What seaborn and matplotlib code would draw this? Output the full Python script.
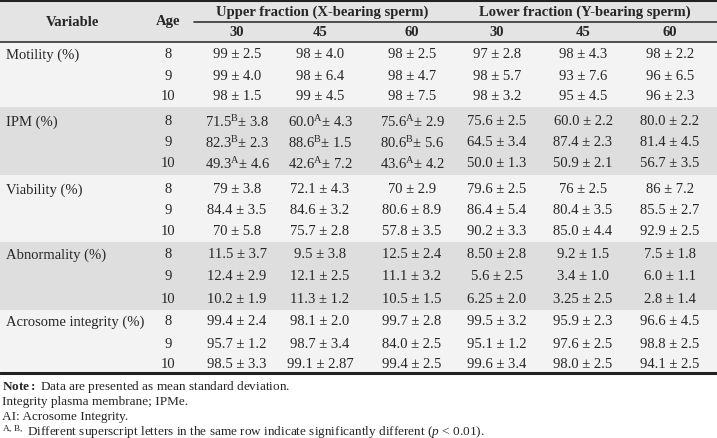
import matplotlib
matplotlib.use("Agg")
import matplotlib.pyplot as plt
import seaborn as sns

sns.set_theme(style="white")
plt.rcParams['font.family'] = ['Liberation Serif', 'DejaVu Serif']
plt.rcParams['mathtext.fontset'] = 'custom'
plt.rcParams['mathtext.rm'] = 'Liberation Serif'
plt.rcParams['mathtext.it'] = 'Liberation Serif:italic'
plt.rcParams['mathtext.bf'] = 'Liberation Serif:bold'

variables = ["Motility (%)", "IPM (%)", "Viability (%)", "Abnormality (%)", "Acrosome integrity (%)"]
ages = ["8", "9", "10"]
sub_cols = ["30", "45", "60", "30", "45", "60"]
groups = ["Upper fraction (X-bearing sperm)", "Lower fraction (Y-bearing sperm)"]

motility = [["99 ± 2.5", "98 ± 4.0", "98 ± 2.5", "97 ± 2.8", "98 ± 4.3", "98 ± 2.2"],
            ["99 ± 4.0", "98 ± 6.4", "98 ± 4.7", "98 ± 5.7", "93 ± 7.6", "96 ± 6.5"],
            ["98 ± 1.5", "99 ± 4.5", "98 ± 7.5", "98 ± 3.2", "95 ± 4.5", "96 ± 2.3"]]
ipm = [["71.5$^{\\mathrm{B}}$± 3.8", "60.0$^{\\mathrm{A}}$± 4.3", "75.6$^{\\mathrm{A}}$± 2.9", "75.6 ± 2.5", "60.0 ± 2.2", "80.0 ± 2.2"],
       ["82.3$^{\\mathrm{B}}$± 2.3", "88.6$^{\\mathrm{B}}$± 1.5", "80.6$^{\\mathrm{B}}$± 5.6", "64.5 ± 3.4", "87.4 ± 2.3", "81.4 ± 4.5"],
       ["49.3$^{\\mathrm{A}}$± 4.6", "42.6$^{\\mathrm{A}}$± 7.2", "43.6$^{\\mathrm{A}}$± 4.2", "50.0 ± 1.3", "50.9 ± 2.1", "56.7 ± 3.5"]]
viability = [["79 ± 3.8", "72.1 ± 4.3", "70 ± 2.9", "79.6 ± 2.5", "76 ± 2.5", "86 ± 7.2"],
             ["84.4 ± 3.5", "84.6 ± 3.2", "80.6 ± 8.9", "86.4 ± 5.4", "80.4 ± 3.5", "85.5 ± 2.7"],
             ["70 ± 5.8", "75.7 ± 2.8", "57.8 ± 3.5", "90.2 ± 3.3", "85.0 ± 4.4", "92.9 ± 2.5"]]
abnormality = [["11.5 ± 3.7", "9.5 ± 3.8", "12.5 ± 2.4", "8.50 ± 2.8", "9.2 ± 1.5", "7.5 ± 1.8"],
               ["12.4 ± 2.9", "12.1 ± 2.5", "11.1 ± 3.2", "5.6 ± 2.5", "3.4 ± 1.0", "6.0 ± 1.1"],
               ["10.2 ± 1.9", "11.3 ± 1.2", "10.5 ± 1.5", "6.25 ± 2.0", "3.25 ± 2.5", "2.8 ± 1.4"]]
acrosome = [["99.4 ± 2.4", "98.1 ± 2.0", "99.7 ± 2.8", "99.5 ± 3.2", "95.9 ± 2.3", "96.6 ± 4.5"],
            ["95.7 ± 1.2", "98.7 ± 3.4", "84.0 ± 2.5", "95.1 ± 1.2", "97.6 ± 2.5", "98.8 ± 2.5"],
            ["98.5 ± 3.3", "99.1 ± 2.87", "99.4 ± 2.5", "99.6 ± 3.4", "98.0 ± 2.5", "94.1 ± 2.5"]]
blocks = [motility, ipm, viability, abnormality, acrosome]
notes = ["$\\mathbf{Note:}$ Data are presented as mean standard deviation.",
         "Integrity plasma membrane; IPMe.",
         "AI: Acrosome Integrity.",
         "$^{\\mathrm{A,\\,B,}}$ Different superscript letters in the same row indicate significantly different ($\\mathit{p}$ < 0.01)."]

fig = plt.figure(figsize=(7.17, 4.39), dpi=100)
ax = fig.add_axes([0, 0, 1, 1])
ax.set_xlim(0, 717)
ax.set_ylim(439, 0)
ax.axis("off")

band_edges = [43, 108, 176, 243, 311, 375]
band_colors = ["#f3f3f3", "#dedede", "#f3f3f3", "#dedede", "#f3f3f3"]
ax.axhspan(0, 43, color="#e4e4e4", lw=0)
for i, c in enumerate(band_colors):
    ax.axhspan(band_edges[i], band_edges[i + 1], color=c, lw=0)

ax.plot([0, 717], [1, 1], color="#222222", lw=2.2)
ax.plot([0, 717], [374, 374], color="#222222", lw=2.2)
ax.plot([0, 717], [43, 43], color="#333333", lw=1.2)
ax.plot([194, 717], [23, 23], color="#333333", lw=1.2)

fs = 10.5
col_x = [237, 320, 412, 497, 583, 670]
age_x = 168
ax.text(73, 22, "Variable", ha="center", va="center", fontsize=fs, weight="bold")
ax.text(age_x, 22, "Age", ha="center", va="center", fontsize=fs, weight="bold")
ax.text(322, 12, groups[0], ha="center", va="center", fontsize=fs, weight="bold")
ax.text(585, 12, groups[1], ha="center", va="center", fontsize=fs, weight="bold")
for x, s in zip(col_x, sub_cols):
    ax.text(x, 33, s, ha="center", va="center", fontsize=fs, weight="bold")

row_y = [[55, 77, 97], [122, 143, 164], [190, 211, 232], [255, 277, 300], [322, 345, 365]]
for name, block, ys in zip(variables, blocks, row_y):
    ax.text(6, ys[0], name, ha="left", va="center", fontsize=fs)
    for a, row, y in zip(ages, block, ys):
        ax.text(age_x, y, a, ha="center", va="center", fontsize=fs)
        for x, v in zip(col_x, row):
            ax.text(x, y, v, ha="center", va="center", fontsize=fs)

for i, n in enumerate(notes):
    ax.text(2, 387 + i * 15, n, ha="left", va="center", fontsize=9.5)

fig.savefig("out.png", dpi=100)
